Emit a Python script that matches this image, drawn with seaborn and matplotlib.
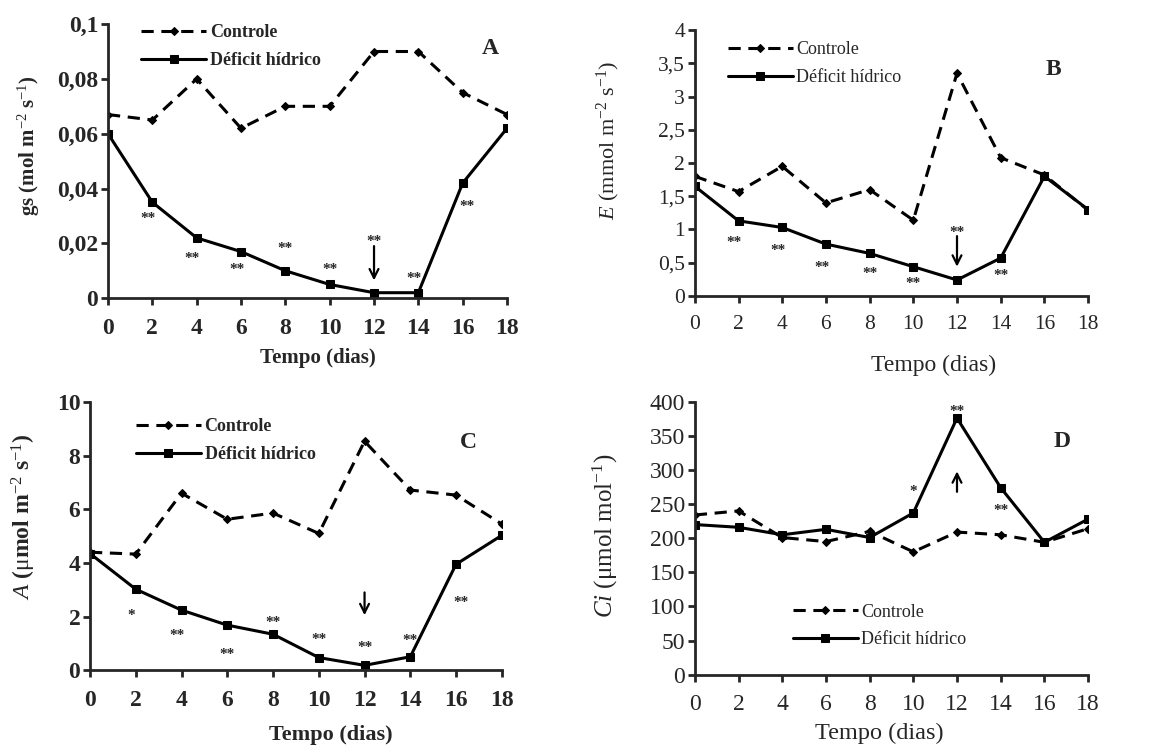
import numpy as np
import pandas as pd
import matplotlib
matplotlib.use("Agg")
import matplotlib.pyplot as plt
from matplotlib.ticker import FuncFormatter, MultipleLocator
import seaborn as sns

# Days of measurement
dias = [0, 2, 4, 6, 8, 10, 12, 14, 16, 18]

# A - stomatal conductance
gs_controle = [0.067, 0.065, 0.080, 0.062, 0.070, 0.070, 0.090, 0.090, 0.075, 0.067]
gs_deficit = [0.060, 0.035, 0.022, 0.017, 0.010, 0.005, 0.002, 0.002, 0.042, 0.062]
gs_sig_x = [1.8, 3.8, 5.8, 8, 10, 12, 13.8, 16.2]
gs_sig_y = [0.029, 0.0145, 0.0105, 0.018, 0.0105, 0.0205, 0.0072, 0.0335]
gs_sig_txt = ["**"] * 8

# B - transpiration
e_controle = [1.80, 1.57, 1.95, 1.40, 1.60, 1.14, 3.35, 2.08, 1.82, 1.29]
e_deficit = [1.65, 1.13, 1.03, 0.78, 0.64, 0.44, 0.24, 0.57, 1.80, 1.30]
e_sig_x = [1.8, 3.8, 5.8, 8, 10, 12, 14]
e_sig_y = [0.80, 0.68, 0.43, 0.34, 0.19, 0.96, 0.31]
e_sig_txt = ["**"] * 7

# C - net photosynthesis
a_controle = [4.40, 4.33, 6.60, 5.63, 5.86, 5.10, 8.54, 6.72, 6.53, 5.45]
a_deficit = [4.35, 3.02, 2.24, 1.68, 1.34, 0.47, 0.18, 0.50, 3.95, 5.03]
a_sig_x = [1.8, 3.8, 6, 8, 10, 12, 14, 16.2]
a_sig_y = [2.05, 1.30, 0.57, 1.78, 1.15, 0.85, 1.12, 2.53]
a_sig_txt = ["*", "**", "**", "**", "**", "**", "**", "**"]

# D - internal CO2
ci_controle = [234, 240, 201, 195, 210, 180, 209, 205, 194, 214]
ci_deficit = [220, 216, 205, 213, 201, 237, 376, 274, 194, 228]
ci_sig_x = [10, 12, 14]
ci_sig_y = [268, 386, 240]
ci_sig_txt = ["*", "**", "**"]

sns.set_style("ticks")
plt.rcParams["font.family"] = ["Liberation Serif", "DejaVu Serif"]
plt.rcParams["mathtext.fontset"] = "custom"
plt.rcParams["mathtext.rm"] = "Liberation Serif"
plt.rcParams["mathtext.it"] = "Liberation Serif:italic"
plt.rcParams["mathtext.bf"] = "Liberation Serif:bold"

fig = plt.figure(figsize=(11.6, 7.53), dpi=100)
fig.patch.set_facecolor("white")

axA = fig.add_axes([0.0931, 0.604, 0.344, 0.364])
axB = fig.add_axes([0.599, 0.607, 0.339, 0.353])
axC = fig.add_axes([0.0776, 0.110, 0.355, 0.356])
axD = fig.add_axes([0.599, 0.104, 0.339, 0.3625])


def comma(v, pos):
    return f"{v:g}".replace(".", ",")


# per panel settings: axis, series, y range, labels, annotations, layout tweaks
panels = [
    dict(ax=axA, ctrl=gs_controle, defi=gs_deficit, ymax=0.1, ystep=0.02,
         ylabel=r"gs (mol m$^{-2}$ s$^{-1}$)", letter="A",
         sig=(gs_sig_x, gs_sig_y, gs_sig_txt), arrow=(0.019, 0.0065),
         leg=(0.065, 1.025), let=(0.957, 0.912), weight="bold",
         tick=17, ylab=15, xlab=15, ycoord=(-0.165, 0.558), xcoord=(0.525, -0.182)),
    dict(ax=axB, ctrl=e_controle, defi=e_deficit, ymax=4, ystep=0.5,
         ylabel=r"$\it{E}$ (mmol m$^{-2}$ s$^{-1}$)", letter="B",
         sig=(e_sig_x, e_sig_y, e_sig_txt), arrow=(0.9, 0.44),
         leg=(0.065, 0.986), let=(0.911, 0.85), weight="normal",
         tick=15.5, ylab=16, xlab=17, ycoord=(-0.186, 0.583), xcoord=(0.606, -0.222)),
    dict(ax=axC, ctrl=a_controle, defi=a_deficit, ymax=10, ystep=2,
         ylabel=r"$\it{A}$ ($\mathrm{\mu}$mol m$^{-2}$ s$^{-1}$)", letter="C",
         sig=(a_sig_x, a_sig_y, a_sig_txt), arrow=(2.9, 2.05),
         leg=(0.094, 0.967), let=(0.92, 0.85), weight="bold",
         tick=17, ylab=17, xlab=16, ycoord=(-0.126, 0.571), xcoord=(0.585, -0.205)),
    dict(ax=axD, ctrl=ci_controle, defi=ci_deficit, ymax=400, ystep=50,
         ylabel=r"$\it{Ci}$ ($\mathrm{\mu}$mol mol$^{-1}$)", letter="D",
         sig=(ci_sig_x, ci_sig_y, ci_sig_txt), arrow=(268, 298),
         leg=(0.23, 0.287), let=(0.934, 0.853), weight="normal",
         tick=17, ylab=18, xlab=17.5, ycoord=(-0.191, 0.51), xcoord=(0.468, -0.176)),
]

for p in panels:
    ax = p["ax"]
    weight = p["weight"]
    df = pd.DataFrame({"dia": dias, "Controle": p["ctrl"], "Déficit hídrico": p["defi"]})
    sns.lineplot(data=df, x="dia", y="Controle", ax=ax, color="black", lw=2.2,
                 linestyle=(0, (4, 2.5)), marker="D", markersize=4, markeredgecolor="black",
                 label="Controle")
    sns.lineplot(data=df, x="dia", y="Déficit hídrico", ax=ax, color="black", lw=2.2,
                 marker="s", markersize=6, markeredgecolor="black", label="Déficit hídrico")

    ax.set_xlim(0, 18)
    ax.set_ylim(0, p["ymax"])
    ax.xaxis.set_major_locator(MultipleLocator(2))
    ax.yaxis.set_major_locator(MultipleLocator(p["ystep"]))
    ax.yaxis.set_major_formatter(FuncFormatter(comma))
    ax.tick_params(axis="both", direction="out", length=5, width=2, labelsize=p["tick"])
    ax.tick_params(axis="x", pad=9)
    ax.tick_params(axis="y", pad=2)
    for lab in ax.get_xticklabels() + ax.get_yticklabels():
        lab.set_fontweight(weight)
    ax.spines["right"].set_visible(False)
    ax.spines["top"].set_visible(False)
    ax.spines["left"].set_linewidth(2)
    ax.spines["bottom"].set_linewidth(2)

    ax.set_xlabel("Tempo (dias)", fontsize=p["xlab"], fontweight=weight, va="top")
    ax.set_ylabel(p["ylabel"], fontsize=p["ylab"], fontweight=weight)
    ax.yaxis.set_label_coords(*p["ycoord"])
    ax.xaxis.set_label_coords(*p["xcoord"])

    for sx, sy, st in zip(*p["sig"]):
        ax.text(sx, sy, st, ha="center", va="center", fontsize=11, fontweight="bold")

    y0, y1 = p["arrow"]
    ax.annotate("", xy=(12, y1), xytext=(12, y0),
                arrowprops=dict(arrowstyle="->", lw=1.6, color="black",
                                mutation_scale=16, shrinkA=0, shrinkB=0))

    ax.text(p["let"][0], p["let"][1], p["letter"], transform=ax.transAxes, fontsize=17,
            fontweight="bold", ha="center", va="center")

    leg = ax.legend(loc="upper left", bbox_to_anchor=p["leg"], frameon=False,
                    fontsize=13, handlelength=3.6, handletextpad=0.2,
                    labelspacing=0.6, borderaxespad=0)
    for t in leg.get_texts():
        t.set_fontweight(weight)

fig.savefig("out.png", dpi=100, facecolor="white")
